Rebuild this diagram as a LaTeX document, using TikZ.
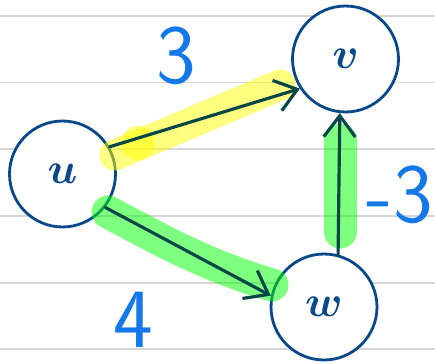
\documentclass[tikz,border=0pt]{standalone}
\usepackage{tikz}
\usetikzlibrary{arrows.meta}
\definecolor{ink}{RGB}{10,72,140}
\definecolor{edge}{RGB}{8,70,72}
\definecolor{wt}{RGB}{20,120,232}
\definecolor{rule}{gray}{0.84}
\definecolor{hlyel}{RGB}{255,255,0}
\definecolor{hlgrn}{RGB}{0,255,0}

\begin{document}
\begin{tikzpicture}[
  x=0.02cm, y=-0.02cm,
  vtx/.style={circle, draw=ink, line width=1.6pt, fill=white,
              minimum size=2.12cm, inner sep=0pt, text=ink,
              font=\boldmath\fontsize{38}{38}\selectfont},
  wlab/.style={text=wt, font=\sffamily\fontsize{48}{48}\selectfont},
  ar/.style={-{Straight Barb[length=12pt, width=18pt]}, draw=edge,
             line width=1.8pt, line cap=round},
  hy/.style={draw=hlyel, opacity=.5, line width=0.62cm, line cap=round},
  hg/.style={draw=hlgrn, opacity=.5, line width=0.66cm, line cap=round,
             line join=round},
]
\useasboundingbox (0,0) rectangle (435,364);

% ruled paper
\foreach \yy in {16,82.5,149,216,283,349}
  \draw[rule, line width=0.9pt] (0,\yy) -- (435,\yy);

\node[vtx] (u) at (62.5,174) {$u$};
\node[vtx] (v) at (345.5,59) {$v$};
\node[vtx] (w) at (324,307)  {$w$};

% highlighter
\draw[hy] (115,155) -- (280,85);
\fill[hlyel, opacity=.5] (138,143) circle (17);
\draw[hg] plot[smooth] coordinates {(108,212) (140,229) (175,247) (215,265)
  (250,278) (272,285)};
\draw[hg] (340,140) -- (340,232);

\draw[ar] (u.30)  -- (v.213);
\draw[ar] (u.-38) -- (w.168);
\draw[ar] (w.75)  -- (v.264);

\node[wlab] (l3)  at (176,56)  {3};
\node[wlab] (lm3) at (400,195) {-3};
\node[wlab] (l4)  at (133,320) {4};
\end{tikzpicture}
\end{document}
